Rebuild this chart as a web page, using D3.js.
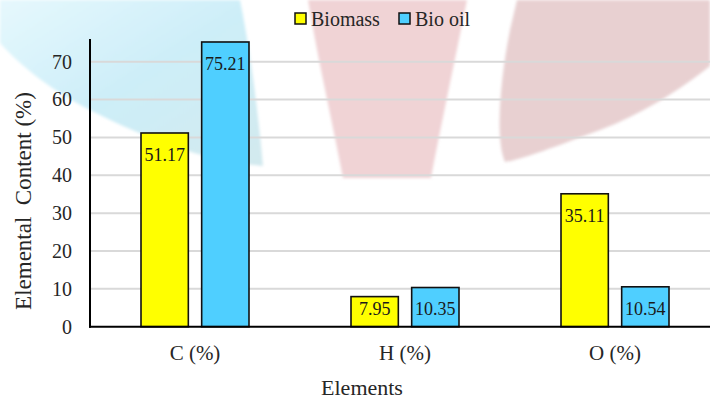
<!DOCTYPE html>
<html>
<head>
<meta charset="utf-8">
<script src="https://cdn.jsdelivr.net/npm/d3@7"></script>
<style>
  html, body { margin: 0; padding: 0; background: #fff; }
  svg { display: block; }
  svg text { font-family: "Liberation Serif", "Times New Roman", "DejaVu Serif", serif !important; }
</style>
</head>
<body>
<svg id="chart" width="710" height="399"></svg>
<script>
// ---- data ----
const categories = ["C (%)", "H (%)", "O (%)"];
const seriesNames = ["Biomass", "Bio oil"];
const biomass = [51.17, 7.95, 35.11];
const bioOil = [75.21, 10.35, 10.54];
const yTicks = [0, 10, 20, 30, 40, 50, 60, 70];
const seriesColors = ["#FFFF00", "#4FCFFF"];

const seriesValues = [biomass, bioOil];
const SERIF = "'Liberation Serif', 'Times New Roman', serif";

const svg = d3.select("#chart");
const W = 710, H = 399;

// ---- faint background watermark ----
const defs = svg.append("defs");
const gBlue = defs.append("linearGradient").attr("id", "gb")
  .attr("x1", "0").attr("y1", "0").attr("x2", "1").attr("y2", "1");
gBlue.append("stop").attr("offset", "0").attr("stop-color", "#e6f8fd");
gBlue.append("stop").attr("offset", "0.5").attr("stop-color", "#cdeef8");
gBlue.append("stop").attr("offset", "1").attr("stop-color", "#d2e9ee");
defs.append("filter").attr("id", "soft").append("feGaussianBlur").attr("stdDeviation", 1.5);
const wm = svg.append("g").attr("class", "watermark").attr("filter", "url(#soft)");
wm.append("path")
  .attr("d", "M0,0 L240,0 C250,50 258,110 263,166 C200,160 150,140 90,110 C50,90 20,65 0,43 Z")
  .attr("fill", "url(#gb)");
wm.append("path")
  .attr("d", "M308,0 L467,0 C455,60 440,130 431,178 L343,178 C332,120 318,60 308,0 Z")
  .attr("fill", "#f0d3d5");
wm.append("path")
  .attr("d", "M517,0 L710,0 L710,66 C680,90 640,115 600,130 C560,145 520,160 505,162 C495,140 500,80 510,30 Z")
  .attr("fill", "#e8d0d1");

// ---- layout ----
const plotLeft = 90, plotRight = 720, plotTop = 39, zeroY = 326.7;

const x0 = d3.scaleBand().domain(categories).range([plotLeft, plotRight]).paddingInner(0).paddingOuter(0);
const groupW = 108;
const x1 = d3.scaleBand().domain(seriesNames).range([0, groupW]).paddingInner(0.22).paddingOuter(0);
const y = d3.scaleLinear().domain([0, 76]).range([zeroY, plotTop]);

// gridlines
svg.append("g").selectAll("line").data(yTicks.filter(d => d > 0)).join("line")
  .attr("x1", plotLeft).attr("x2", W)
  .attr("y1", d => y(d)).attr("y2", d => y(d))
  .attr("stroke", "#d9d9d9").attr("stroke-width", 2);

// y axis
const yAxis = d3.axisLeft(y).tickValues(yTicks).tickSize(0).tickPadding(18).tickFormat(d3.format("d"));
const gy = svg.append("g").attr("transform", `translate(${plotLeft},0)`).call(yAxis)
  .attr("font-family", SERIF);
gy.select(".domain").remove();
gy.selectAll("text").attr("font-size", 20).attr("fill", "#262626").attr("font-family", SERIF);

// bars
const groups = svg.append("g").selectAll("g").data(categories).join("g")
  .attr("transform", d => `translate(${x0(d) + x0.bandwidth() / 2 - groupW / 2},0)`);

const barData = (c, i) => seriesNames.map((s, j) => ({ s, j, v: seriesValues[j][i] }));

groups.selectAll("rect").data((c, i) => barData(c, i)).join("rect")
  .attr("x", d => x1(d.s))
  .attr("width", x1.bandwidth())
  .attr("y", d => y(d.v))
  .attr("height", d => y(0) - y(d.v))
  .attr("fill", d => seriesColors[d.j])
  .attr("stroke", "#111").attr("stroke-width", 1.6);

groups.selectAll("text.lbl").data((c, i) => barData(c, i)).join("text")
  .attr("class", "lbl")
  .attr("x", d => x1(d.s) + x1.bandwidth() / 2)
  .attr("y", d => Math.min(y(d.v) + 28.5, zeroY - 12))
  .attr("text-anchor", "middle")
  .attr("font-size", 18)
  .attr("font-family", SERIF)
  .attr("fill", "#1a1a1a")
  .text(d => d3.format(".2f")(d.v));

// axes lines
svg.append("line").attr("x1", plotLeft).attr("x2", plotLeft).attr("y1", plotTop).attr("y2", zeroY + 1)
  .attr("stroke", "#000").attr("stroke-width", 2);
svg.append("line").attr("x1", plotLeft - 1).attr("x2", W).attr("y1", zeroY).attr("y2", zeroY)
  .attr("stroke", "#000").attr("stroke-width", 2);

// category labels
const xAxis = d3.axisBottom(x0).tickSize(0).tickPadding(0);
const gx = svg.append("g").attr("transform", `translate(0,${zeroY})`).call(xAxis)
  .attr("font-family", SERIF);
gx.select(".domain").remove();
gx.selectAll("text").attr("font-size", 21).attr("fill", "#262626")
  .attr("dy", null).attr("y", 33).attr("font-family", SERIF);

// axis titles
svg.append("text").attr("x", 362).attr("y", 395).attr("text-anchor", "middle")
  .attr("font-size", 22).attr("font-family", SERIF).attr("fill", "#262626").text("Elements");
svg.append("text")
  .attr("transform", "translate(31,201) rotate(-90)")
  .attr("text-anchor", "middle").attr("font-size", 23).attr("font-family", SERIF).attr("fill", "#262626")
  .attr("xml:space", "preserve")
  .style("white-space", "pre")
  .text("Elemental  Content (%)");

// legend
const legend = svg.append("g");
const legendX = [295, 399];
const li = legend.selectAll("g").data(seriesNames).join("g")
  .attr("transform", (d, i) => `translate(${legendX[i]},13)`);
li.append("rect").attr("width", 11).attr("height", 11)
  .attr("fill", (d, i) => seriesColors[i]).attr("stroke", "#111").attr("stroke-width", 1.5);
li.append("text").attr("x", 16).attr("y", 13).attr("font-size", 20).attr("font-family", SERIF)
  .attr("fill", "#262626").text(d => d);
</script>
</body>
</html>
